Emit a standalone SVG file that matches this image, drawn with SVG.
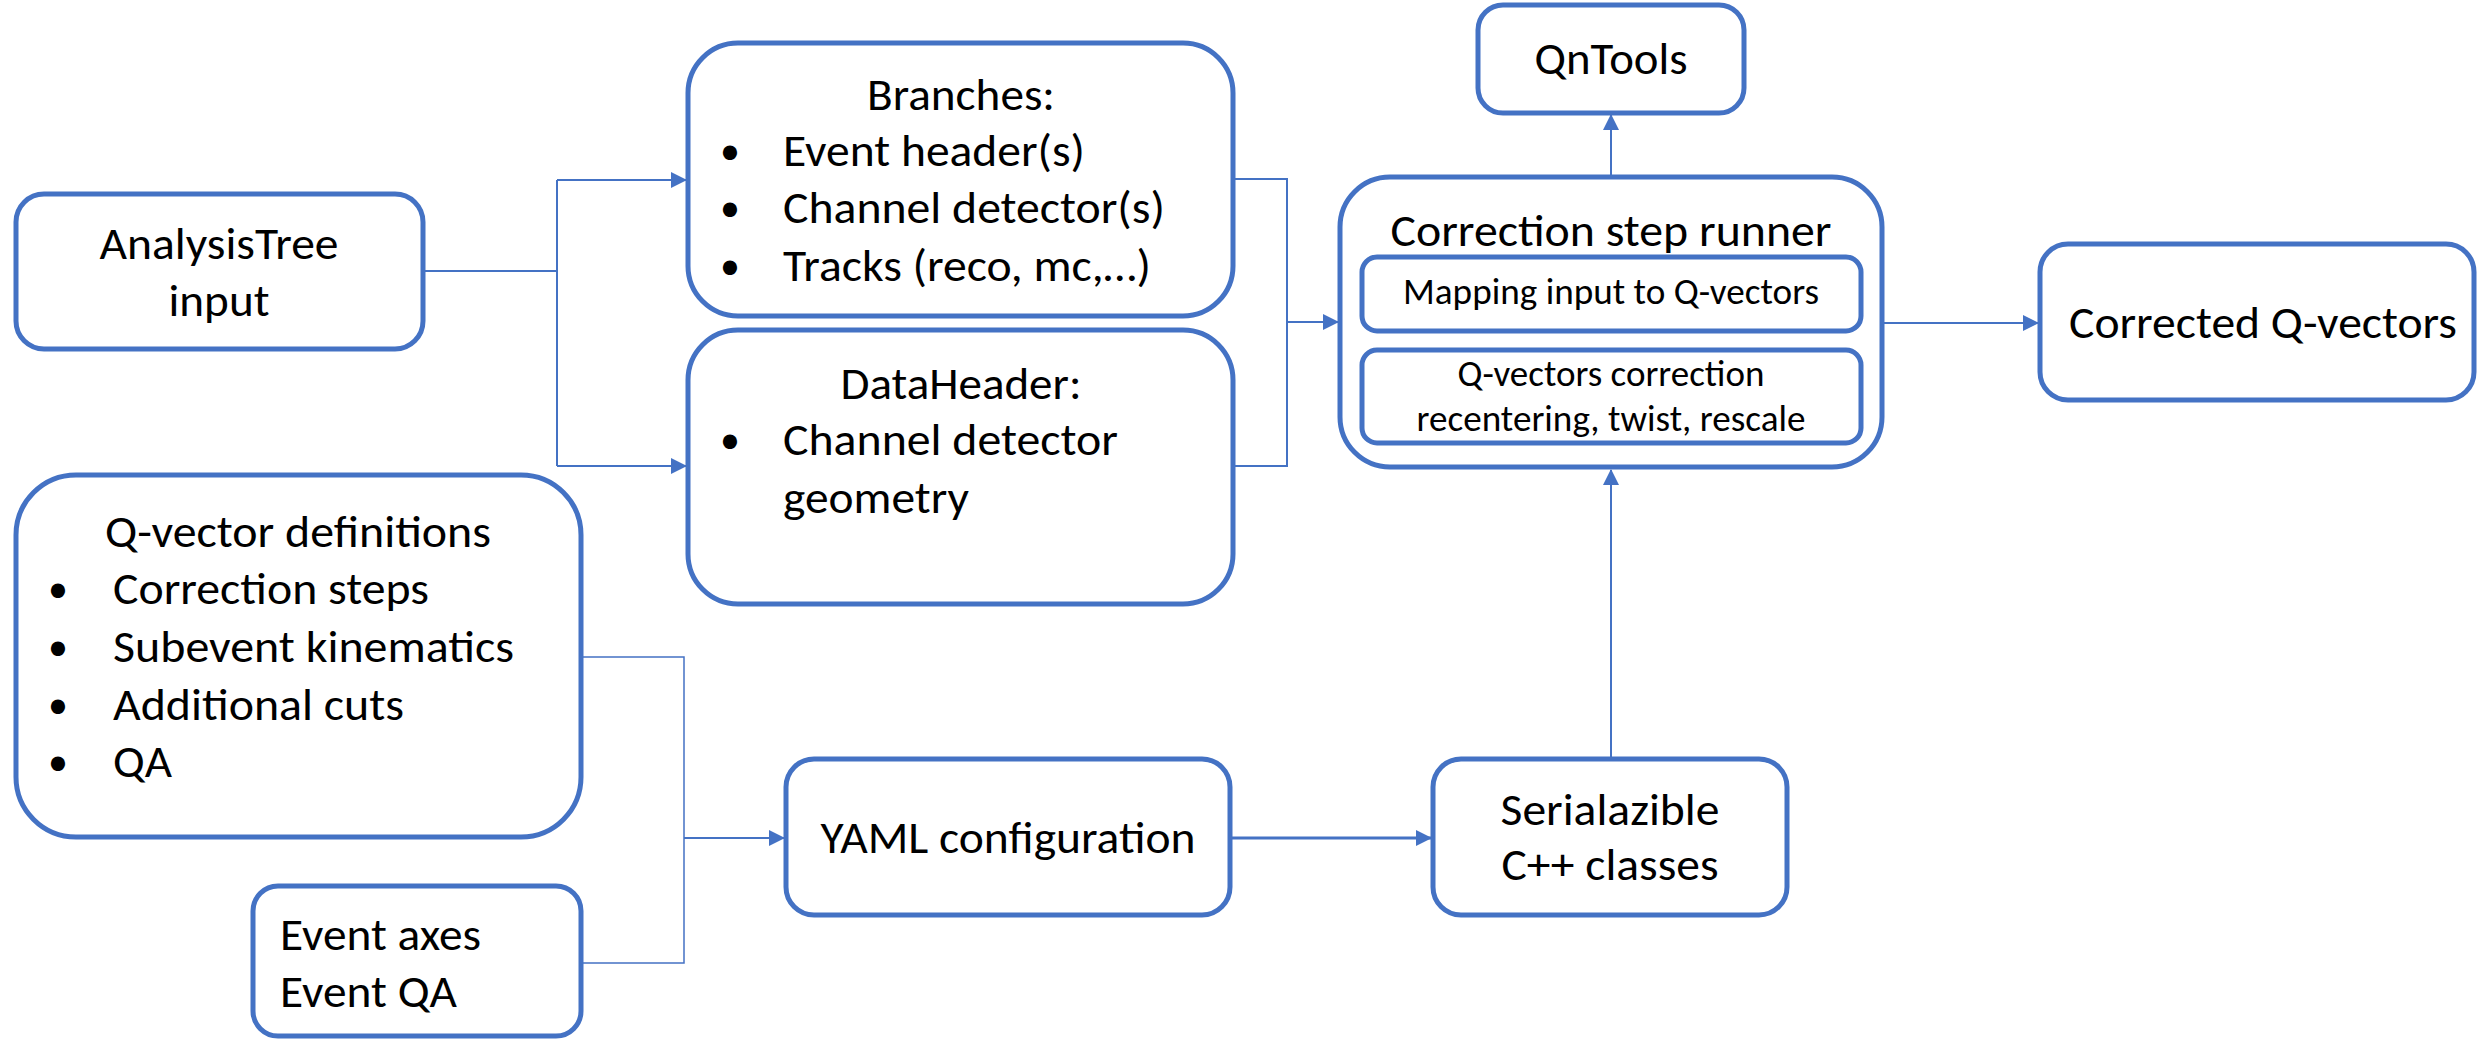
<svg xmlns="http://www.w3.org/2000/svg" width="2478" height="1041" viewBox="0 0 2478 1041">
  <defs>
    <marker id="arrow" viewBox="0 0 16 16" refX="15" refY="8" markerWidth="16" markerHeight="16" markerUnits="userSpaceOnUse" orient="auto">
      <path d="M0,0 L16,8 L0,16 z" fill="#4472C4"/>
    </marker>
    <style>
      .box { fill: #ffffff; stroke: #4472C4; stroke-width: 5; }
      .inner { fill: #ffffff; stroke: #4472C4; stroke-width: 5; }
      .wire { fill: none; stroke: #4472C4; stroke-width: 2; }
      .thin { fill: none; stroke: #4472C4; stroke-width: 1.5; }
      .thick { fill: none; stroke: #4472C4; stroke-width: 3; }
      text { font-family: Carlito, Lato, "Liberation Sans", sans-serif; fill: #000000; font-size: 46px; }
      .c { text-anchor: middle; }
      .s { font-size: 36px; }
      .b { font-size: 40px; }
    </style>
  </defs>
  <rect width="2478" height="1041" fill="#ffffff"/>

  <!-- connectors -->
  <g id="connectors">
    <!-- AnalysisTree input fans out to Branches and DataHeader -->
    <path class="wire" d="M423,271 H557"/>
    <path class="wire" d="M557,180 V466"/>
    <path class="wire" d="M557,180 H686" marker-end="url(#arrow)"/>
    <path class="wire" d="M557,466 H686" marker-end="url(#arrow)"/>
    <!-- Branches and DataHeader merge into the correction step runner -->
    <path class="wire" d="M1233,179 H1287 V466 H1233"/>
    <path class="wire" d="M1287,322 H1338" marker-end="url(#arrow)"/>
    <!-- runner to QnTools -->
    <path class="wire" d="M1611,177 V115" marker-end="url(#arrow)"/>
    <!-- runner to corrected Q-vectors -->
    <path class="wire" d="M1882,323 H2038" marker-end="url(#arrow)"/>
    <!-- definitions and event axes merge into YAML -->
    <path class="thin" d="M581,657 H684 V963 H581"/>
    <path class="wire" d="M684,838 H784" marker-end="url(#arrow)"/>
    <!-- YAML to C++ classes -->
    <path class="thick" d="M1230,838 H1431" marker-end="url(#arrow)"/>
    <!-- C++ classes up to runner -->
    <path class="wire" d="M1611,759 V470" marker-end="url(#arrow)"/>
  </g>

  <g id="analysis-tree">
    <rect class="box" x="16" y="194" width="407" height="155" rx="28"/>
    <text class="c" x="219" y="259" textLength="239" lengthAdjust="spacingAndGlyphs">AnalysisTree</text>
    <text class="c" x="219" y="316" textLength="101" lengthAdjust="spacingAndGlyphs">input</text>
  </g>

  <g id="branches">
    <rect class="box" x="688" y="43" width="545" height="273" rx="50"/>
    <text class="c" x="961" y="110" textLength="188" lengthAdjust="spacingAndGlyphs">Branches:</text>
    <text class="c b" x="730" y="164">•</text>
    <text x="783" y="166" textLength="302" lengthAdjust="spacingAndGlyphs">Event header(s)</text>
    <text class="c b" x="730" y="221">•</text>
    <text x="783" y="223" textLength="382" lengthAdjust="spacingAndGlyphs">Channel detector(s)</text>
    <text class="c b" x="730" y="279">•</text>
    <text x="783" y="281" textLength="368" lengthAdjust="spacingAndGlyphs">Tracks (reco, mc,…)</text>
  </g>

  <g id="data-header">
    <rect class="box" x="688" y="330" width="545" height="274" rx="50"/>
    <text class="c" x="961" y="399" textLength="241" lengthAdjust="spacingAndGlyphs">DataHeader:</text>
    <text class="c b" x="730" y="453">•</text>
    <text x="783" y="455" textLength="335" lengthAdjust="spacingAndGlyphs">Channel detector</text>
    <text x="783" y="513" textLength="186" lengthAdjust="spacingAndGlyphs">geometry</text>
  </g>

  <g id="qntools">
    <rect class="box" x="1478" y="5" width="266" height="108" rx="25"/>
    <text class="c" x="1611" y="74" textLength="153" lengthAdjust="spacingAndGlyphs">QnTools</text>
  </g>

  <g id="correction-step-runner">
    <rect class="box" x="1340" y="177" width="542" height="290" rx="50"/>
    <text class="c" x="1611" y="246" textLength="441" lengthAdjust="spacingAndGlyphs">Correction step runner</text>
    <g id="mapping">
      <rect class="inner" x="1362" y="257" width="499" height="74" rx="15"/>
      <text class="c s" x="1611" y="304" textLength="416" lengthAdjust="spacingAndGlyphs">Mapping input to Q-vectors</text>
    </g>
    <g id="qvector-correction">
      <rect class="inner" x="1362" y="350" width="499" height="93" rx="15"/>
      <text class="c s" x="1611" y="386" textLength="307" lengthAdjust="spacingAndGlyphs">Q-vectors correction</text>
      <text class="c s" x="1611" y="431" textLength="389" lengthAdjust="spacingAndGlyphs">recentering, twist, rescale</text>
    </g>
  </g>

  <g id="corrected-qvectors">
    <rect class="box" x="2040" y="244" width="434" height="156" rx="28"/>
    <text x="2069" y="338" textLength="388" lengthAdjust="spacingAndGlyphs">Corrected Q-vectors</text>
  </g>

  <g id="qvector-definitions">
    <rect class="box" x="16" y="475" width="565" height="362" rx="60"/>
    <text class="c" x="298" y="547" textLength="386" lengthAdjust="spacingAndGlyphs">Q-vector definitions</text>
    <text class="c b" x="58" y="602">•</text>
    <text x="113" y="604" textLength="316" lengthAdjust="spacingAndGlyphs">Correction steps</text>
    <text class="c b" x="58" y="660">•</text>
    <text x="113" y="662" textLength="401" lengthAdjust="spacingAndGlyphs">Subevent kinematics</text>
    <text class="c b" x="58" y="718">•</text>
    <text x="113" y="720" textLength="291" lengthAdjust="spacingAndGlyphs">Additional cuts</text>
    <text class="c b" x="58" y="775">•</text>
    <text x="113" y="777" textLength="59" lengthAdjust="spacingAndGlyphs">QA</text>
  </g>

  <g id="event-axes">
    <rect class="box" x="253" y="886" width="328" height="150" rx="25"/>
    <text x="280" y="950" textLength="201" lengthAdjust="spacingAndGlyphs">Event axes</text>
    <text x="280" y="1007" textLength="177" lengthAdjust="spacingAndGlyphs">Event QA</text>
  </g>

  <g id="yaml-configuration">
    <rect class="box" x="786" y="759" width="444" height="156" rx="28"/>
    <text class="c" x="1008" y="853" textLength="375" lengthAdjust="spacingAndGlyphs">YAML configuration</text>
  </g>

  <g id="cpp-classes">
    <rect class="box" x="1433" y="759" width="354" height="156" rx="28"/>
    <text class="c" x="1610" y="825" textLength="219" lengthAdjust="spacingAndGlyphs">Serialazible</text>
    <text class="c" x="1610" y="880" textLength="217" lengthAdjust="spacingAndGlyphs">C++ classes</text>
  </g>
</svg>
